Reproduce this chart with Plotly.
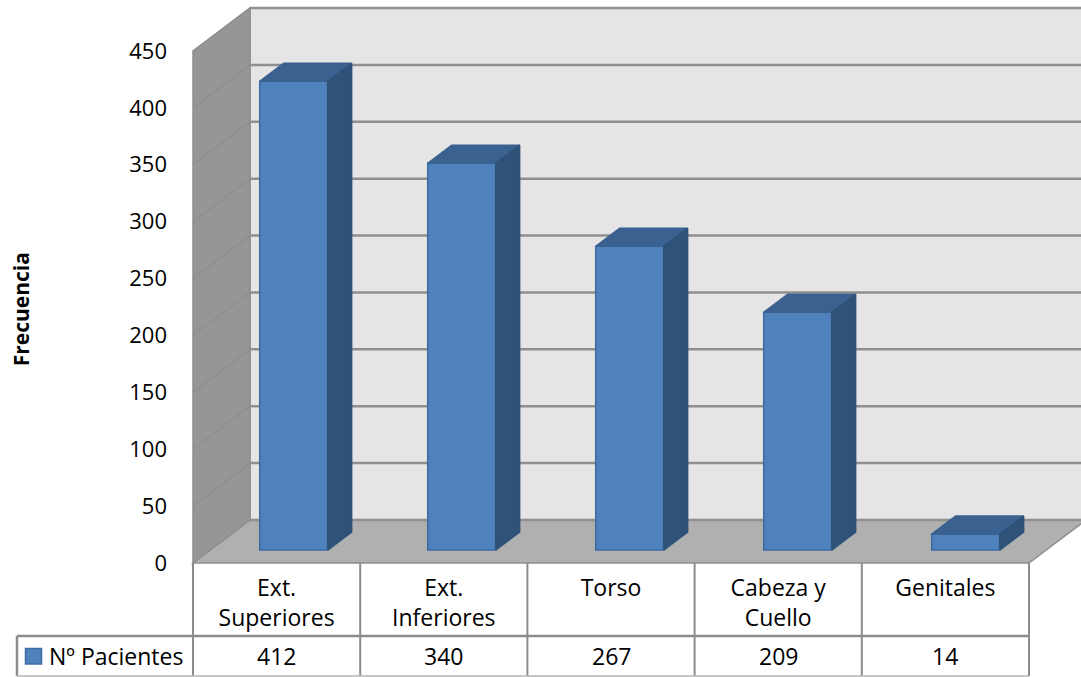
import plotly.graph_objects as go

# Chart data
categories = ["Ext.<br>Superiores", "Ext.<br>Inferiores", "Torso", "Cabeza y<br>Cuello", "Genitales"]
pacientes = [412, 340, 267, 209, 14]
series_name = "Nº Pacientes"
y_ticks = [0, 50, 100, 150, 200, 250, 300, 350, 400, 450]

# Canvas and projection geometry
W, H = 1081, 677
X0_PX, CAT_PX = 193, 167.2       # left edge of the front plane, width of one category
Y0_PX, UNIT_PX = 563, 512 / 450  # baseline pixel row, pixels per patient
DEPTH_X = 57 / CAT_PX            # oblique offset of the back wall, in x-axis units
DEPTH_Y = 43 / UNIT_PX           # oblique offset of the back wall, in y-axis units
BAR_PITCH = 168 / CAT_PX         # spacing of the bars along the x axis
BAR_WIDTH = 68 / CAT_PX
BAR_D0, BAR_D1 = 0.30, 0.72      # front and back of each bar as a fraction of the depth

FONT = "Open Sans"
TEXT_SIZE = 23
TICK_SIZE = 22
WALL, SIDE, FLOOR = "#e5e5e5", "#969696", "#b0b0b0"
GRID = "#8f8f8f"
FRONT, TOP, RIGHT = "#4f81bd", "#3a6190", "#2f5278"
EDGE = "#3d6ca3"


def row(px):
    """Value on the y axis for a pixel row."""
    return (Y0_PX - px) / UNIT_PX


def col(px):
    """Position on the x axis for a pixel column."""
    return (px - X0_PX) / CAT_PX


def proj(x, v, d):
    """Oblique projection of category position, value and depth."""
    return x + d * DEPTH_X, v + d * DEPTH_Y


def path(points):
    return "M " + " L ".join(f"{x:.4f},{y:.4f}" for x, y in points) + " Z"


n = len(categories)
y_max = y_ticks[-1]
shapes = []


def poly(points, fill, line=GRID, width=1.5):
    shapes.append(dict(type="path", path=path(points), fillcolor=fill, layer="below",
                       line=dict(color=line, width=width), xref="x", yref="y"))


def seg(x0, y0, x1, y1, width=2, color=GRID, layer="below"):
    shapes.append(dict(type="line", x0=x0, y0=y0, x1=x1, y1=y1, layer=layer,
                       line=dict(color=color, width=width), xref="x", yref="y"))


# Back wall, side wall and floor; the floor runs past the right edge of the canvas
x_far = n + 1
poly([proj(0, 0, 1), proj(x_far, 0, 1), proj(x_far, y_max, 1), proj(0, y_max, 1)], WALL)
poly([proj(0, 0, 0), proj(0, 0, 1), proj(0, y_max, 1), proj(0, y_max, 0)], SIDE)
poly([proj(0, 0, 0), proj(n, 0, 0), proj(n, 0, 1), proj(x_far, 0, 1), proj(0, 0, 1)], FLOOR)

# Gridlines on both walls
for t in y_ticks:
    a, b = proj(0, t, 0), proj(0, t, 1)
    seg(a[0], a[1], b[0], b[1], width=1.5)
    c = proj(x_far, t, 1)
    seg(b[0], b[1], c[0], c[1], width=2.5)

# Data table ruled below the plot
table_top, table_mid, table_bot = row(563), row(636), row(676)
for i in range(n + 1):
    seg(i, table_top, i, table_bot, color="#8c8c8c", layer="above")
seg(col(17), table_mid, n, table_mid, width=2.5, color="#8c8c8c", layer="above")
seg(col(17), table_mid, col(17), table_bot, width=2.5, color="#8c8c8c", layer="above")
seg(col(17), table_bot, n, table_bot, width=1.5, color="#b5b5b5", layer="above")

# Legend key inside the table
shapes.append(dict(type="rect", x0=col(25.5), x1=col(41.5), y0=row(648.5), y1=row(664), xref="x", yref="y",
                   fillcolor=FRONT, line=dict(color=EDGE, width=1.5), layer="above"))

fig = go.Figure()

# Bars stand inside the floor depth, centred on their category
bar_x = [0.5 + i * BAR_PITCH for i in range(n)]
fig.add_trace(go.Bar(
    x=[x + BAR_D0 * DEPTH_X for x in bar_x], y=pacientes, base=BAR_D0 * DEPTH_Y, width=BAR_WIDTH,
    name=series_name, marker=dict(color=FRONT, line=dict(color=EDGE, width=1.5)), showlegend=False,
))

# Top and right faces of each bar
for x, v in zip(bar_x, pacientes):
    left = x - BAR_WIDTH / 2
    right = x + BAR_WIDTH / 2
    faces = [
        ([proj(left, v, BAR_D0), proj(right, v, BAR_D0), proj(right, v, BAR_D1), proj(left, v, BAR_D1)], TOP),
        ([proj(right, 0, BAR_D0), proj(right, 0, BAR_D1), proj(right, v, BAR_D1), proj(right, v, BAR_D0)], RIGHT),
    ]
    for pts, color in faces:
        xs = [p[0] for p in pts] + [pts[0][0]]
        ys = [p[1] for p in pts] + [pts[0][1]]
        fig.add_trace(go.Scatter(
            x=xs, y=ys, mode="lines", fill="toself", fillcolor=color,
            line=dict(color=color, width=1.5), hoverinfo="skip", showlegend=False,
        ))

annotations = [
    dict(text="<b>Frecuencia</b>", xref="paper", yref="y", x=21 / W, y=223, textangle=-90,
         xanchor="center", yanchor="middle", showarrow=False,
         font=dict(family=FONT, size=21, color="#000000")),
    dict(text=series_name, xref="x", yref="y", x=col(47), y=row(656), xanchor="left",
         showarrow=False, font=dict(family=FONT, size=TEXT_SIZE, color="#000000")),
]
for i, v in enumerate(pacientes):
    annotations.append(dict(text=str(v), xref="x", yref="y", x=i + 0.5, y=row(656),
                            showarrow=False, font=dict(family=FONT, size=TEXT_SIZE, color="#000000")))

fig.update_layout(
    width=W, height=H, margin=dict(l=0, r=0, t=0, b=0), autosize=False,
    paper_bgcolor="white", plot_bgcolor="white", showlegend=False,
    font=dict(family=FONT, size=TEXT_SIZE, color="#000000"),
    shapes=shapes, annotations=annotations, hovermode=False,
    xaxis=dict(
        range=[col(0), col(W)], domain=[0, 1], anchor="free", position=(H - Y0_PX) / H,
        tickmode="array", tickvals=[i + 0.5 for i in range(n)], ticktext=categories,
        showgrid=False, zeroline=False, showline=False, ticks="", ticklabelstandoff=9,
        tickfont=dict(family=FONT, size=TEXT_SIZE, color="#000000"),
    ),
    yaxis=dict(
        range=[row(H), row(0)], domain=[0, 1], anchor="free", position=X0_PX / W,
        tickmode="array", tickvals=y_ticks, showgrid=False, zeroline=False, showline=False,
        ticks="", ticklabelstandoff=26,
        tickfont=dict(family=FONT, size=TICK_SIZE, color="#000000"),
    ),
)

fig.write_html("out.html")
